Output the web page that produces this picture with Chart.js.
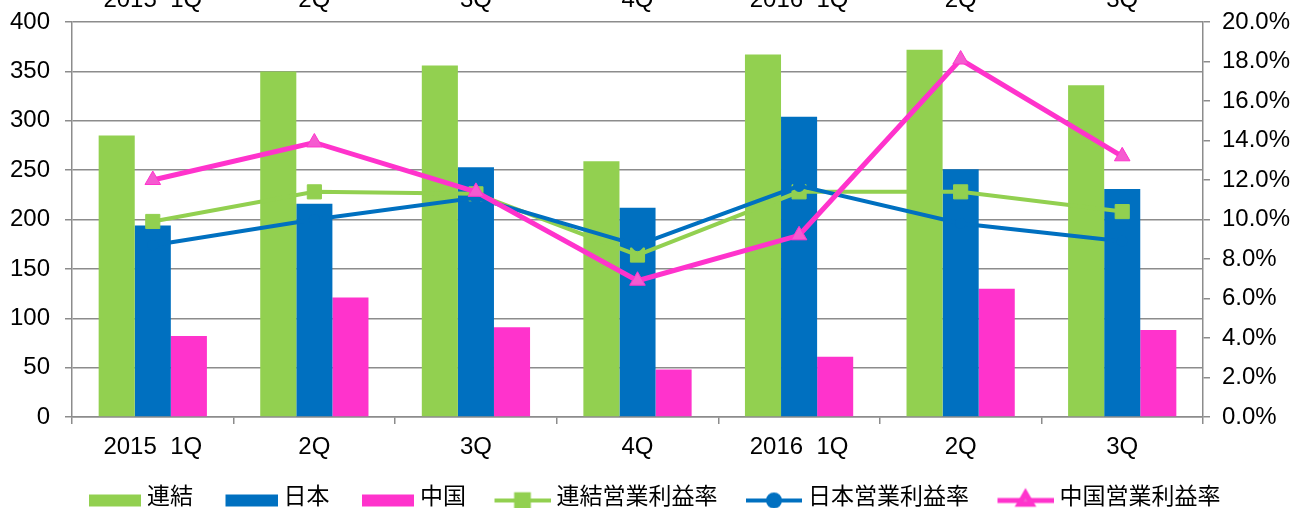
<!DOCTYPE html>
<html lang="ja">
<head>
<meta charset="utf-8">
<title>営業利益率</title>
<script src="https://cdn.jsdelivr.net/npm/chart.js@4.4.1/dist/chart.umd.min.js"></script>
<style>
    html, body { margin: 0; padding: 0; background: #fff; overflow: hidden; }
    #wrap { position: relative; width: 1293px; height: 508px; overflow: hidden; }
    #chart { position: absolute; left: 0; top: -17px; }
</style>
</head>
<body>
<div id="wrap"><canvas id="chart" width="1293" height="536"></canvas></div>
<script>
// data
const quarters = ['2015  1Q', '2Q', '3Q', '4Q', '2016  1Q', '2Q', '3Q'];
const consolidated = [285, 350, 356, 259, 367, 372, 336];
const japan = [194, 216, 253, 212, 304, 251, 231];
const china = [82, 121, 91, 48, 61, 130, 88];
const consolidatedMargin = [9.9, 11.4, 11.3, 8.2, 11.4, 11.4, 10.4];  // %
const japanMargin = [8.7, 10.0, 11.1, 8.7, 11.7, 9.8, 8.9];
const chinaMargin = [12.0, 13.9, 11.4, 6.9, 9.2, 18.1, 13.2];
const leftTicks = [0, 400, 50];   // min, max, step
const rightTicks = [0, 20, 2];

const GREEN = '#92D050';
const BLUE = '#0070C0';
const PINK = '#FF33CC';
const GRID = '#8c8c8c';
const FONT = "'Liberation Sans', Arial, 'Noto Sans CJK JP', sans-serif";

Chart.defaults.font.family = FONT;
Chart.defaults.font.size = 24;
Chart.defaults.color = '#000';

// legend keys drawn like the spreadsheet ones (box, or line with marker)
const KEY_W = 66;
function legendKey(kind, color, marker) {
    const c = document.createElement('canvas');
    c.width = KEY_W;
    c.height = 30;
    const g = c.getContext('2d');
    const cy = 18;
    if (kind === 'bar') {
        g.fillStyle = color;
        g.fillRect(KEY_W - 52, cy - 6, 52, 12);
    } else {
        g.strokeStyle = color;
        g.lineWidth = marker.lineWidth;
        g.beginPath();
        g.moveTo(KEY_W - 56, cy);
        g.lineTo(KEY_W, cy);
        g.stroke();
        g.fillStyle = marker.fill;
        g.strokeStyle = marker.border;
        Chart.helpers.drawPoint(g, {
            pointStyle: marker.style, radius: marker.radius, rotation: 0, borderWidth: 1
        }, KEY_W - 28, cy);
    }
    return c;
}

const keys = [
    legendKey('bar', GREEN),
    legendKey('bar', BLUE),
    legendKey('bar', PINK),
    legendKey('line', GREEN, { lineWidth: 4, fill: GREEN, border: GREEN, style: 'rect', radius: 9 }),
    legendKey('line', BLUE, { lineWidth: 4, fill: BLUE, border: BLUE, style: 'circle', radius: 6 }),
    legendKey('line', PINK, { lineWidth: 5, fill: '#F55BD0', border: PINK, style: 'triangle', radius: 7.5 })
];

const ctx = document.getElementById('chart').getContext('2d');

new Chart(ctx, {
    data: {
        labels: quarters,
        datasets: [
            { type: 'bar', label: '連結', data: consolidated, backgroundColor: GREEN, order: 3 },
            { type: 'bar', label: '日本', data: japan, backgroundColor: BLUE, order: 3 },
            { type: 'bar', label: '中国', data: china, backgroundColor: PINK, order: 3 },
            {
                type: 'line', label: '連結営業利益率', data: consolidatedMargin, yAxisID: 'y1',
                borderColor: GREEN, borderWidth: 4, tension: 0, order: 2,
                pointStyle: 'rect', pointRadius: 10, pointBackgroundColor: GREEN,
                pointBorderColor: GREEN, pointBorderWidth: 1
            },
            {
                type: 'line', label: '日本営業利益率', data: japanMargin, yAxisID: 'y1',
                borderColor: BLUE, borderWidth: 4, tension: 0, order: 1,
                pointStyle: 'circle', pointRadius: 5.5, pointBackgroundColor: BLUE,
                pointBorderColor: BLUE, pointBorderWidth: 1
            },
            {
                type: 'line', label: '中国営業利益率', data: chinaMargin, yAxisID: 'y1',
                borderColor: PINK, borderWidth: 5, tension: 0, order: 0,
                pointStyle: 'triangle', pointRadius: 9, pointBackgroundColor: '#F55BD0',
                pointBorderColor: PINK, pointBorderWidth: 1
            }
        ]
    },
    options: {
        responsive: false,
        animation: false,
        events: [],
        layout: { padding: { left: 10, right: 2, top: 0, bottom: 0 } },
        datasets: {
            bar: { barPercentage: 1, categoryPercentage: 0.67 }
        },
        scales: {
            x: {
                position: 'bottom',
                offset: true,
                grid: { display: true, offset: true, drawOnChartArea: false, drawTicks: true, tickLength: 7, color: GRID, lineWidth: 1.5 },
                border: { display: true, color: GRID, width: 1.5 },
                ticks: { padding: 9, maxRotation: 0, autoSkip: false },
                afterFit: s => { s.height = 45; }
            },
            x2: {
                type: 'category',
                position: 'top',
                offset: true,
                grid: { display: false, drawTicks: false },
                border: { display: false },
                ticks: { padding: 7, maxRotation: 0, autoSkip: false },
                afterFit: s => { s.height = 39; }
            },
            y: {
                position: 'left',
                min: leftTicks[0],
                max: leftTicks[1],
                grid: { color: GRID, lineWidth: 1.5, tickLength: 7 },
                border: { display: true, color: GRID, width: 1.5 },
                ticks: { stepSize: leftTicks[2], padding: 15 },
                afterFit: s => { s.width = 62; }
            },
            y1: {
                position: 'right',
                min: rightTicks[0],
                max: rightTicks[1],
                grid: { drawOnChartArea: false, color: GRID, lineWidth: 1.5, tickLength: 7 },
                border: { display: true, color: GRID, width: 1.5 },
                ticks: {
                    stepSize: rightTicks[2],
                    padding: 12,
                    callback: v => v.toFixed(1) + '%'
                },
                afterFit: s => { s.width = 88; }
            }
        },
        plugins: {
            tooltip: { enabled: false },
            legend: {
                position: 'bottom',
                labels: {
                    font: { size: 23 },
                    color: '#000',
                    padding: 24,
                    usePointStyle: true,
                    pointStyleWidth: 55,
                    generateLabels: chart => {
                        const items = Chart.defaults.plugins.legend.labels.generateLabels(chart);
                        items.forEach(item => { item.pointStyle = keys[item.datasetIndex]; });
                        return items;
                    },
                    sort: (a, b) => a.datasetIndex - b.datasetIndex
                }
            }
        }
    }
});
</script>
</body>
</html>
